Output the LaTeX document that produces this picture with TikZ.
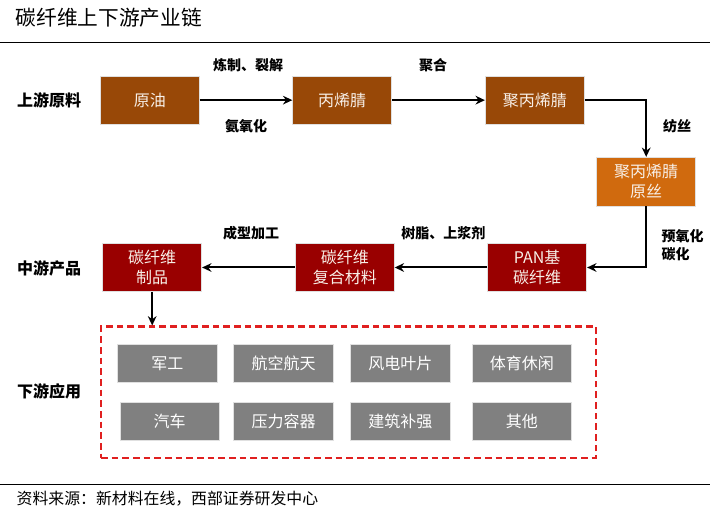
\documentclass[tikz,border=0pt]{standalone}
\usepackage{fontspec}
\setmainfont{Noto Sans CJK SC}
\usetikzlibrary{arrows.meta,fit}
\definecolor{brownbox}{HTML}{984807}
\definecolor{orangebox}{HTML}{D06A0E}
\definecolor{redbox}{HTML}{990000}
\definecolor{graybox}{HTML}{808080}
\definecolor{dashred}{HTML}{E02020}
\definecolor{boxtext}{HTML}{F8F0E8}
\tikzset{
  boxbase/.style={inner sep=0pt, draw=black!12, line width=0.6pt, text=boxtext, align=center,
    font=\fontsize{12pt}{15pt}\selectfont, minimum width=74.25pt, minimum height=36.25pt},
  upbox/.style={boxbase, fill=brownbox},
  silkbox/.style={boxbase, fill=orangebox, minimum height=36.5pt},
  midbox/.style={boxbase, fill=redbox},
  usebox/.style={boxbase, fill=graybox, text=white, minimum width=74.5pt, minimum height=29pt},
  steplabel/.style={font=\fontsize{10.5pt}{14pt}\selectfont\bfseries, align=left},
  sidelabel/.style={font=\fontsize{12pt}{14pt}\selectfont\bfseries},
  conn/.style={line width=1.5pt, -{Stealth[length=7pt,width=6.5pt]}},
  dashbox/.style={draw=dashred, line width=1.8pt, dash pattern=on 5pt off 3pt, inner sep=0pt},
}
\begin{document}
\begin{tikzpicture}[x=0.75pt,y=-0.75pt]
\useasboundingbox (0,0) rectangle (710,516);
% title and rules
\node[anchor=west, font=\fontsize{15.5pt}{18pt}\selectfont] (title) at (11,18) {碳纤维上下游产业链};
\coordinate (tl) at (0,42.7); \coordinate (tr) at (710,42.7);
\draw[line width=1.2pt] (tl) -- (tr);
\coordinate (bl) at (0,484.3); \coordinate (br) at (710,484.3);
\draw[line width=1.2pt] (bl) -- (br);
\node[anchor=west, font=\fontsize{11.9pt}{14pt}\selectfont] (source) at (12,499) {资料来源：新材料在线，西部证券研发中心};

% side labels
\node[sidelabel] (lup) at (49,100) {上游原料};
\node[sidelabel] (lmid) at (49,268) {中游产品};
\node[sidelabel] (ldown) at (49,391) {下游应用};

% upstream
\node[upbox] (yy) at (149.8,100.15) {原油};
\node[upbox] (bxj) at (342.2,100.15) {丙烯腈};
\node[upbox] (jbxj) at (534.8,100.15) {聚丙烯腈};
\node[silkbox] (ys) at (646.2,181.65) {聚丙烯腈\\原丝};

% midstream
\node[midbox] (pan) at (537.2,267.5) {PAN基\\碳纤维};
\node[midbox] (fh) at (344.8,267.5) {碳纤维\\复合材料};
\node[midbox] (zp) at (152.2,267.5) {碳纤维\\制品};

% downstream
\node[dashbox, fit={(101,326.7) (596,457.7)}] (down) {};
\node[usebox] (u1) at (167.35,363.35) {军工};
\node[usebox] (u2) at (283.5,363.35) {航空航天};
\node[usebox] (u3) at (400.35,363.35) {风电叶片};
\node[usebox] (u4) at (521.85,363.35) {体育休闲};
\node[usebox] (u5) at (169.65,421.35) {汽车};
\node[usebox] (u6) at (283.5,421.35) {压力容器};
\node[usebox] (u7) at (400.35,421.35) {建筑补强};
\node[usebox] (u8) at (521.85,421.35) {其他};

% connectors
\draw[conn] (yy.east) -- (bxj.west);
\draw[conn] (bxj.east) -- (jbxj.west);
\draw[conn] (jbxj.east) -| (ys.north);
\draw[conn] (ys.south) |- (pan.east);
\draw[conn] (pan.west) -- (fh.east);
\draw[conn] (fh.west) -- (zp.east);
\draw[conn] (zp.south) -- (zp.south |- down.north);

% step labels
\node[steplabel] (s1) at (248,65) {炼制、裂解};
\node[steplabel] (s2) at (246,126) {氨氧化};
\node[steplabel] (s3) at (433,65) {聚合};
\node[steplabel] (s4) at (677,126) {纺丝};
\node[steplabel, anchor=west] (s5) at (657,245) {预氧化\\碳化};
\node[steplabel] (s6) at (443.3,232.7) {树脂、上浆剂};
\node[steplabel] (s7) at (251,232.7) {成型加工};
\end{tikzpicture}
\end{document}
